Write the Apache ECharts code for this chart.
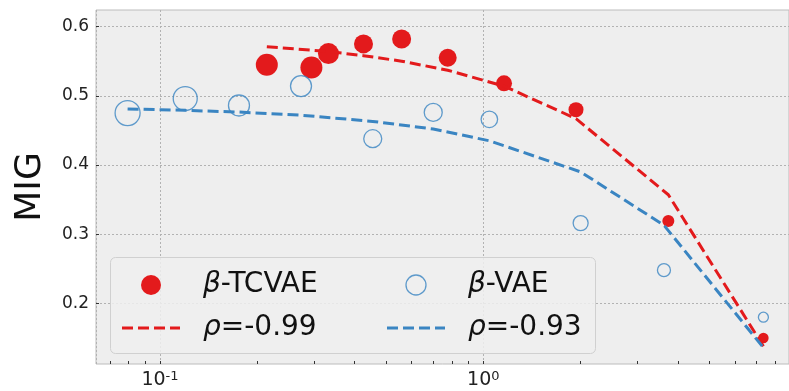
<!DOCTYPE html>
<html>
<head>
<meta charset="utf-8">
<script src="https://cdn.jsdelivr.net/npm/echarts@6/dist/echarts.min.js"></script>
<style>
  html, body { margin: 0; padding: 0; background: #ffffff; }
  #chart { width: 789px; height: 391px; }
</style>
</head>
<body>
<div id="chart"></div>
<script>
// ---- data ----
const seriesNames = ['β-TCVAE', 'β-VAE', 'ρ=-0.99', 'ρ=-0.93'];

const tcvaeX    = [0.214, 0.294, 0.332, 0.426, 0.559, 0.776, 1.159, 1.935, 3.735, 7.35];
const tcvaeMIG  = [0.545, 0.541, 0.561, 0.575, 0.582, 0.555, 0.518, 0.480, 0.319, 0.150];
const tcvaeSize = [22, 22, 21, 19, 19, 18, 16, 15, 12, 10.5];
const tcvaeFit  = [0.571, 0.566, 0.564, 0.558, 0.550, 0.537, 0.514, 0.467, 0.357, 0.138];

const vaeX    = [0.0794, 0.1197, 0.1755, 0.273, 0.455, 0.700, 1.044, 2.0, 3.62, 7.35];
const vaeMIG  = [0.475, 0.496, 0.486, 0.514, 0.438, 0.476, 0.466, 0.316, 0.248, 0.180];
const vaeSize = [25, 24, 21, 21, 18, 18, 16.5, 15, 13, 10];
const vaeFit  = [0.481, 0.479, 0.4765, 0.472, 0.463, 0.452, 0.435, 0.390, 0.313, 0.136];

const xMajorTicks = [0.1, 1];
const xMajorBase = ['10', '10'];
const xMajorExp = ['-1', '0'];
const xMinorTicks = [0.07, 0.08, 0.09, 0.1, 0.2, 0.3, 0.4, 0.5, 0.6, 0.7, 0.8, 0.9, 1, 2, 3, 4, 5, 6, 7, 8];
const yTicks = [0.2, 0.3, 0.4, 0.5, 0.6];
const yTickLabels = ['0.2', '0.3', '0.4', '0.5', '0.6'];

// ---- styling ----
const RED = '#e31a1c';
const BLUE = '#3a85c2';
const FONT = 'DejaVu Sans';
const X_MIN = 0.0634, X_MAX = 8.82, Y_MIN = 0.1124, Y_MAX = 0.624;
const DASH_ICON = 'path://M0,0h11v3h-11z M16,0h11v3h-11z M32,0h11v3h-11z M48,0h10v3h-10z';

function zip(xs, ys, ss) {
  return xs.map((x, i) => ss ? [x, ys[i], ss[i]] : [x, ys[i]]);
}

const legendRich = {
  g: { fontFamily: FONT, fontStyle: 'italic', fontSize: 28, lineHeight: 30, color: '#111' },
  n: { fontFamily: FONT, fontSize: 28, lineHeight: 30, color: '#111' }
};
function legendFmt(name) {
  return '{g|' + name.charAt(0) + '}{n|' + name.slice(1) + '}';
}

const chart = echarts.init(document.getElementById('chart'), null, { renderer: 'canvas' });

chart.setOption({
  animation: false,
  backgroundColor: '#ffffff',
  textStyle: { fontFamily: FONT },
  grid: {
    left: 96, right: 0, top: 10, bottom: 23,
    show: true, backgroundColor: '#eeeeee', borderColor: '#bcbcbc', borderWidth: 1
  },
  xAxis: [
    {
      type: 'log', logBase: 10, min: X_MIN, max: X_MAX, position: 'bottom',
      axisLine: { show: false },
      axisTick: { show: false },
      axisLabel: {
        customValues: xMajorTicks,
        margin: 6,
        color: '#222',
        formatter: function (v) {
          const i = xMajorTicks.findIndex(t => Math.abs(t - v) < 1e-9);
          return i >= 0 ? '{b|' + xMajorBase[i] + '}{s|' + xMajorExp[i] + '}' : '';
        },
        rich: {
          b: { fontFamily: FONT, fontSize: 19, lineHeight: 20, color: '#222', verticalAlign: 'bottom' },
          s: { fontFamily: FONT, fontSize: 13, lineHeight: 20, color: '#222', verticalAlign: 'top', padding: [0, 0, 8, 0] }
        }
      },
      splitLine: { show: true, lineStyle: { color: '#b2b2b2', type: [2, 2], width: 1 } }
    },
    {
      type: 'log', logBase: 10, min: X_MIN, max: X_MAX, position: 'bottom', offset: 0,
      axisLine: { show: false },
      axisLabel: { show: false },
      splitLine: { show: false },
      axisTick: { show: true, inside: true, length: 3, customValues: xMinorTicks,
                  lineStyle: { color: '#333', width: 1 } }
    }
  ],
  yAxis: {
    type: 'value', min: Y_MIN, max: Y_MAX, splitNumber: 5,
    name: 'MIG', nameLocation: 'middle', nameRotate: 90, nameGap: 47,
    nameTextStyle: { fontFamily: FONT, fontSize: 36, color: '#111' },
    axisLine: { show: false },
    axisTick: { show: true, inside: true, length: 3, customValues: yTicks,
                lineStyle: { color: '#333', width: 1 } },
    axisLabel: {
      customValues: yTicks,
      margin: 7, fontFamily: FONT, fontSize: 17, color: '#222',
      formatter: function (v) {
        const i = yTicks.findIndex(t => Math.abs(t - v) < 1e-9);
        return i >= 0 ? yTickLabels[i] : '';
      }
    },
    splitLine: { show: true, lineStyle: { color: '#b2b2b2', type: [2, 2], width: 1 } }
  },
  graphic: [{
    type: 'rect', left: 110, top: 257, z: 3,
    shape: { width: 485, height: 96, r: 5 },
    style: { fill: 'rgba(238,238,238,0.85)', stroke: '#d0d0d0', lineWidth: 1 }
  }],
  legend: [
    {
      orient: 'vertical', left: 122, top: 271, padding: 0, itemGap: 15,
      itemWidth: 58, itemHeight: 20, selectedMode: false, z: 5,
      data: [
        { name: seriesNames[0], icon: 'circle' },
        { name: seriesNames[2], icon: DASH_ICON, itemStyle: { color: RED } }
      ],
      formatter: legendFmt,
      textStyle: { padding: [0, 0, 0, 18], rich: legendRich }
    },
    {
      orient: 'vertical', left: 387, top: 271, padding: 0, itemGap: 15,
      itemWidth: 58, itemHeight: 20, selectedMode: false, z: 5,
      data: [
        { name: seriesNames[1], icon: 'circle', itemStyle: { color: 'rgba(0,0,0,0)', borderColor: BLUE, borderWidth: 1.3 } },
        { name: seriesNames[3], icon: DASH_ICON, itemStyle: { color: BLUE } }
      ],
      formatter: legendFmt,
      textStyle: { padding: [0, 0, 0, 18], rich: legendRich }
    }
  ],
  series: [
    {
      name: seriesNames[0], type: 'scatter', xAxisIndex: 0, z: 2,
      data: zip(tcvaeX, tcvaeMIG, tcvaeSize),
      symbol: 'circle',
      symbolSize: function (val) { return val[2]; },
      itemStyle: { color: RED, opacity: 1 }
    },
    {
      name: seriesNames[1], type: 'scatter', xAxisIndex: 0, z: 2,
      data: zip(vaeX, vaeMIG, vaeSize),
      symbol: 'circle',
      symbolSize: function (val) { return val[2]; },
      itemStyle: { color: 'rgba(0,0,0,0)', borderColor: BLUE, borderWidth: 1.3 }
    },
    {
      name: seriesNames[2], type: 'line', xAxisIndex: 0, z: 3,
      data: zip(tcvaeX, tcvaeFit),
      symbol: 'none', smooth: false,
      lineStyle: { color: RED, width: 3, type: [11, 5] },
      itemStyle: { color: RED }
    },
    {
      name: seriesNames[3], type: 'line', xAxisIndex: 0, z: 3,
      data: zip(vaeX, vaeFit),
      symbol: 'none', smooth: false,
      lineStyle: { color: BLUE, width: 3, type: [11, 5] },
      itemStyle: { color: BLUE }
    }
  ]
});
</script>
</body>
</html>
